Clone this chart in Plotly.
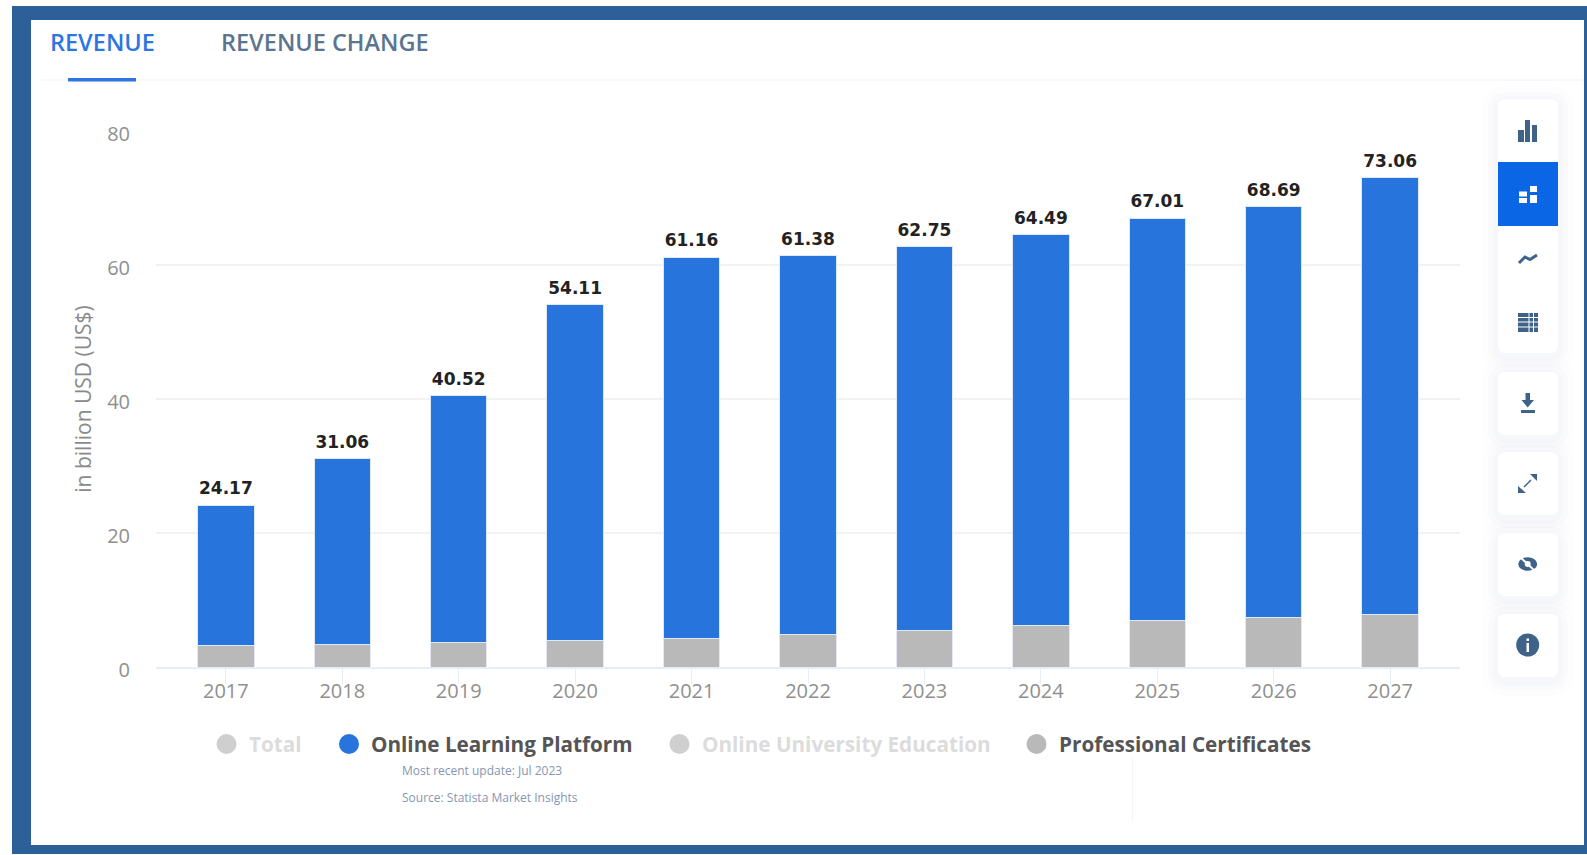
import plotly.graph_objects as go

# Revenue by segment, billion USD
years = ["2017", "2018", "2019", "2020", "2021", "2022", "2023", "2024", "2025", "2026", "2027"]
totals = [24.17, 31.06, 40.52, 54.11, 61.16, 61.38, 62.75, 64.49, 67.01, 68.69, 73.06]
online_learning = [20.97, 27.66, 36.92, 50.21, 56.96, 56.53, 57.30, 58.29, 60.01, 61.29, 65.16]
certificates = [3.20, 3.40, 3.60, 3.90, 4.20, 4.85, 5.45, 6.20, 7.00, 7.40, 7.90]
y_ticks = [0, 20, 40, 60, 80]

W, H = 1587, 855
FRAME = "#2d5f98"
BLUE = "#2874dd"
GREY_BAR = "#b9b9b9"
ICON = "#3f6288"
ACTIVE = "#0a66e4"
SANS = "Open Sans"


def px(x):
    return x / W


def py(y):
    return 1 - y / H


def path(points, close=True):
    body = " L".join(f"{px(x):.5f},{py(y):.5f}" for x, y in points)
    return "M" + body + (" Z" if close else "")


def rounded(x0, y0, x1, y1, r):
    a, b = px, py
    return (
        f"M{a(x0 + r)},{b(y0)} L{a(x1 - r)},{b(y0)} Q{a(x1)},{b(y0)} {a(x1)},{b(y0 + r)} "
        f"L{a(x1)},{b(y1 - r)} Q{a(x1)},{b(y1)} {a(x1 - r)},{b(y1)} "
        f"L{a(x0 + r)},{b(y1)} Q{a(x0)},{b(y1)} {a(x0)},{b(y1 - r)} "
        f"L{a(x0)},{b(y0 + r)} Q{a(x0)},{b(y0)} {a(x0 + r)},{b(y0)} Z"
    )


shapes = []


def rect(x0, y0, x1, y1, fill, layer="below"):
    shapes.append(dict(type="rect", xref="paper", yref="paper", x0=px(x0), x1=px(x1),
                       y0=py(y1), y1=py(y0), fillcolor=fill, line_width=0, layer=layer))


def line(x0, y0, x1, y1, color, width=1, layer="below"):
    shapes.append(dict(type="line", xref="paper", yref="paper", x0=px(x0), x1=px(x1),
                       y0=py(y0), y1=py(y1), line=dict(color=color, width=width), layer=layer))


def blob(d, fill, layer="below"):
    shapes.append(dict(type="path", xref="paper", yref="paper", path=d, fillcolor=fill,
                       line_width=0, layer=layer))


def stroke(points, color, width):
    shapes.append(dict(type="path", xref="paper", yref="paper", path=path(points, close=False),
                       line=dict(color=color, width=width), layer="above"))


def oval(cx, cy, rx, ry, fill, layer="above"):
    shapes.append(dict(type="circle", xref="paper", yref="paper", x0=px(cx - rx), x1=px(cx + rx),
                       y0=py(cy + ry), y1=py(cy - ry), fillcolor=fill, line_width=0, layer=layer))


# Page frame
rect(12, 6, W, 854, FRAME)
rect(31, 20, 1584, 845, "#ffffff")

# Tab strip
line(41, 80, 1584, 80, "#f7f8fc", 2)
rect(68, 78, 136, 81.5, "#2d75e0", layer="above")

# Toolbar cards with their soft shadows
CARD_X0, CARD_X1 = 1498, 1558
cards = [(99, 353), (372, 435), (452, 515), (533, 596), (614, 677)]
for y0, y1 in cards:
    for grow, alpha in ((16, 0.012), (10, 0.015), (5, 0.02)):
        blob(rounded(CARD_X0 - grow, y0 - grow + 3, CARD_X1 + grow, y1 + grow + 3, 10 + grow),
             f"rgba(70,90,140,{alpha})")
for y0, y1 in cards:
    blob(rounded(CARD_X0, y0, CARD_X1, y1, 7), "#ffffff")
rect(CARD_X0, 162, CARD_X1, 226, ACTIVE)

# Toolbar icons
for x0, y0, x1 in ((1518, 130, 1524), (1525, 120, 1530), (1532, 125, 1537)):
    rect(x0, y0, x1, 142, ICON, layer="above")
for x0, y0, x1, y1 in ((1519, 191.5, 1527, 196.5), (1519, 198, 1527, 203),
                       (1530, 186, 1537, 192), (1530, 195, 1537, 203)):
    rect(x0, y0, x1, y1, "#ffffff", layer="above")
stroke([(1519, 263), (1525, 257), (1530, 259.5), (1537, 255)], ICON, 3)
rect(1518, 313, 1538, 332, ICON, layer="above")
for gy in (317.5, 322, 327):
    line(1518, gy, 1538, gy, "#ffffff", 1, layer="above")
for gx in (1529, 1533.5):
    line(gx, 313, gx, 332, "#ffffff", 1, layer="above")
blob(path([(1525.5, 393), (1530, 393), (1530, 400), (1534, 400), (1527.7, 407.5), (1521.5, 400), (1525.5, 400)]),
     ICON, layer="above")
rect(1521, 410, 1535, 413, ICON, layer="above")
stroke([(1524, 487), (1531, 480)], ICON, 1.5)
blob(path([(1518, 486), (1518, 493), (1526, 493)]), ICON, layer="above")
blob(path([(1530, 474), (1537, 474), (1537, 481)]), ICON, layer="above")
oval(1527.7, 564, 9.5, 6.8, ICON)
oval(1527.7, 564, 3, 3, "#ffffff")
stroke([(1519, 556), (1536, 572)], "#ffffff", 2)
oval(1527.7, 645, 11.5, 11.5, ICON)
rect(1526.5, 643, 1529, 652, "#ffffff", layer="above")
rect(1526.5, 638.5, 1529, 641, "#ffffff", layer="above")

# Faint divider under the legend
line(1132.5, 758, 1132.5, 822, "#f4f5f8", 1)

annotations = []


def label(x, y, text, size, color, anchor="left", family=SANS, weight="normal"):
    annotations.append(dict(xref="paper", yref="paper", x=px(x), y=py(y), text=text,
                            showarrow=False, xanchor=anchor, yanchor="middle",
                            font=dict(size=size, color=color, family=family, weight=weight),
                            borderpad=0, borderwidth=0))


label(49.5, 42, "REVENUE", 23.5, "#2d75e0", weight=600)
label(221, 42, "REVENUE CHANGE", 23.5, "#5b7591", weight=600)

# Legend row
legend_entries = [
    (226.5, "Total", "#cfcfcf", "#dcdcdc"),
    (349, "Online Learning Platform", BLUE, "#555555"),
    (679.5, "Online University Education", "#cfcfcf", "#dcdcdc"),
    (1036.5, "Professional Certificates", GREY_BAR, "#555555"),
]
for cx, text, dot, ink in legend_entries:
    oval(cx, 744, 10, 10, dot)
    label(cx + 22, 744, text, 20.7, ink, weight="bold")

label(402, 770, "Most recent update: Jul 2023", 12, "#8496b2")
label(402, 797, "Source: Statista Market Insights", 12, "#8496b2")

fig = go.Figure()
fig.add_bar(x=years, y=certificates, name="Professional Certificates",
            marker=dict(color=GREY_BAR, line=dict(color="#e4e9f5", width=1)))
fig.add_bar(x=years, y=online_learning, name="Online Learning Platform",
            marker=dict(color=BLUE, line=dict(color="#dfe8f7", width=1)))
# The invisible markers hold the total labels clear of the bar tops
fig.add_scatter(x=years, y=totals, name="Total", mode="markers+text",
                marker=dict(size=9, opacity=0),
                text=[f"{v:.2f}" for v in totals], textposition="top center",
                textfont=dict(size=17, color="#222222", family="DejaVu Sans", weight="bold"))

fig.update_layout(
    width=W, height=H,
    margin=dict(l=0, r=0, t=0, b=0),
    paper_bgcolor="#ffffff", plot_bgcolor="rgba(0,0,0,0)",
    barmode="stack", bargap=0.515,
    showlegend=False,
    shapes=shapes, annotations=annotations,
    xaxis=dict(domain=[px(156), px(1460)], type="category", range=[-0.6, 10.6],
               showgrid=False, showline=True, linecolor="#e6ecf8", linewidth=2,
               ticks="outside", ticklen=15, tickcolor="#e6ecf8", tickwidth=1,
               ticklabelstandoff=-10,
               tickfont=dict(size=20, color="#8f8f8f", family=SANS), automargin=False),
    yaxis=dict(domain=[py(667), py(131)], range=[0, 80], tickvals=y_ticks,
               showgrid=True, gridcolor="#f2f2f2", gridwidth=2, zeroline=False,
               ticks="", ticklabelstandoff=25, ticklabelshift=3,
               tickfont=dict(size=20, color="#8f8f8f", family=SANS), automargin=False,
               title=dict(text="in billion USD (US$)", standoff=9,
                          font=dict(size=21, color="#8a8a8a", family=SANS))),
)

fig.write_html("out.html", config=dict(displayModeBar=False))
